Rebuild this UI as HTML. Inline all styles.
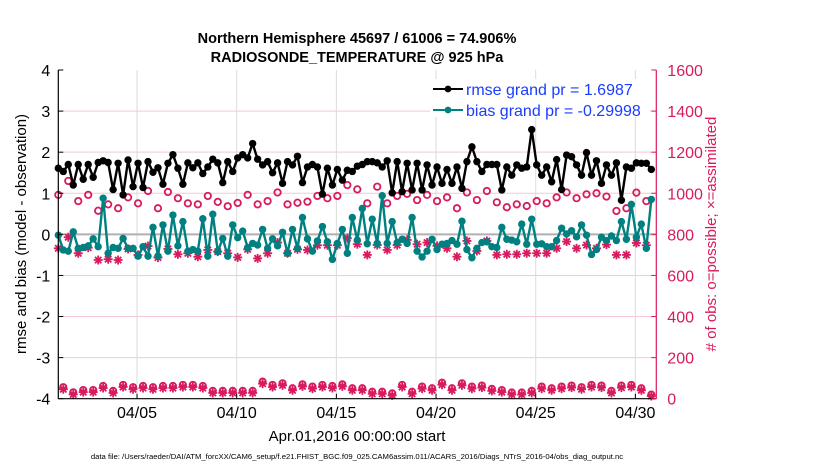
<!DOCTYPE html>
<html><head><meta charset="utf-8"><style>
body{margin:0;background:#fff;}
svg text{font-family:"Liberation Sans",sans-serif;}
</style></head><body>
<svg id="chart" width="830" height="470" xmlns="http://www.w3.org/2000/svg">
<rect x="0" y="0" width="830" height="470" fill="#fff"/>
<g id="grid"></g>
<g id="marks"></g>
<g id="axes"></g>
<text x="357" y="43" font-size="14.5" font-weight="bold" text-anchor="middle">Northern Hemisphere 45697 / 61006 = 74.906%</text>
<text x="357" y="62" font-size="14.5" font-weight="bold" text-anchor="middle">RADIOSONDE_TEMPERATURE @ 925 hPa</text>
<text transform="translate(26,234) rotate(-90)" font-size="15" text-anchor="middle">rmse and bias (model - observation)</text>
<text transform="translate(716,234) rotate(-90)" font-size="15" fill="#d81a5e" text-anchor="middle"># of obs: o=possible; ×=assimilated</text>
<text x="357" y="441" font-size="15" text-anchor="middle">Apr.01,2016 00:00:00 start</text>
<text x="357" y="459" font-size="7.7" text-anchor="middle">data file: /Users/raeder/DAI/ATM_forcXX/CAM6_setup/f.e21.FHIST_BGC.f09_025.CAM6assim.011/ACARS_2016/Diags_NTrS_2016-04/obs_diag_output.nc</text>
<g>
<rect x="430" y="79" width="220" height="38" fill="#fff"/>
<line x1="433" y1="89" x2="463" y2="89" stroke="#000" stroke-width="2"/>
<circle cx="448" cy="89" r="3.4" fill="#000"/>
<text x="466" y="95" font-size="16" fill="#1a3cff">rmse grand pr = 1.6987</text>
<line x1="433" y1="110" x2="463" y2="110" stroke="#008080" stroke-width="2"/>
<circle cx="448" cy="110" r="3.4" fill="#008080"/>
<text x="466" y="116" font-size="16" fill="#1a3cff">bias grand pr = -0.29998</text>
</g>
</svg>
<script>
const rmse=[1.61,1.53,1.70,1.20,1.70,1.34,1.70,1.39,1.75,1.79,1.75,1.09,1.73,0.96,1.81,1.16,1.73,1.14,1.77,1.51,1.62,1.22,1.73,1.94,1.61,1.22,1.74,1.62,1.74,1.48,1.64,1.83,1.74,1.26,1.77,1.53,1.86,1.94,1.86,2.21,
1.83,1.69,1.77,1.50,1.74,1.24,1.77,1.69,1.90,1.26,1.64,1.70,1.64,0.98,1.61,1.20,1.58,1.32,1.56,1.53,1.66,1.70,1.77,1.77,1.74,1.64,1.79,1.01,1.77,1.04,1.73,1.08,1.73,1.08,1.69,1.20,1.64,1.24,
1.58,1.24,1.64,1.12,1.77,2.13,1.77,1.53,1.70,1.70,1.70,1.08,1.64,1.44,1.69,1.61,1.64,2.55,1.69,1.44,1.64,1.28,1.82,1.09,1.93,1.89,1.69,1.44,1.99,1.44,1.79,1.24,1.69,1.44,1.74,0.83,1.64,1.61,1.74,1.73,1.73,1.58];
const bias=[-0.02,-0.38,-0.41,0.06,-0.34,-0.32,-0.28,-0.11,-0.30,0.88,-0.46,-0.32,-0.34,-0.10,-0.34,-0.34,-0.53,-0.30,-0.53,0.17,-0.53,0.23,-0.41,0.47,-0.28,0.31,-0.41,-0.37,-0.41,0.38,-0.53,0.49,-0.42,-0.10,-0.53,0.23,-0.08,0.08,-0.32,-0.22,
-0.26,0.12,-0.34,-0.11,-0.28,0.05,-0.46,0.12,-0.34,0.41,-0.11,-0.41,-0.16,0.19,-0.18,-0.61,-0.22,0.12,-0.46,0.41,-0.14,0.63,-0.23,0.37,-0.22,0.94,-0.22,0.31,-0.20,-0.12,-0.22,0.41,-0.41,-0.55,-0.41,-0.12,-0.37,-0.24,
-0.22,-0.15,-0.24,0.32,-0.37,-0.57,-0.34,-0.20,-0.18,-0.30,-0.32,0.17,-0.12,-0.14,-0.18,0.25,-0.24,0.37,-0.24,-0.23,-0.30,-0.30,-0.15,0.15,0.01,0.09,-0.06,0.23,-0.02,-0.49,-0.37,-0.07,-0.15,-0.04,-0.15,0.31,-0.12,0.73,-0.07,0.25,-0.34,0.85];
// synoptic (00Z/12Z) counts, even indices
const possibleMain=[992,1060,962,992,915,946,927,980,951,1011,927,1006,976,951,946,987,958,937,953,992,
946,962,1004,946,954,959,987,976,987,1040,1019,951,1032,951,987,997,967,992,962,
980,927,1004,967,1011,956,932,946,938,962,951,980,1004,976,995,1000,984,914,927,1003,962];
const assimMain=[732,786,708,735,675,679,675,729,700,743,687,729,703,708,691,724,716,708,688,727,
683,708,760,708,727,724,747,747,747,781,752,700,748,724,748,773,752,760,744,
732,691,768,719,768,700,703,703,708,708,708,732,765,732,748,732,750,700,700,758,747];
// off-synoptic (06Z/18Z) counts, odd indices
const assimOff=[46,21,32,32,52,28,57,46,52,46,52,52,57,57,52,28,28,28,28,28,73,57,65,41,60,49,57,52,60,41,
41,24,24,16,57,24,49,41,68,41,65,49,54,38,32,20,20,28,49,41,49,54,46,57,54,28,54,57,41,13];
const possibleOff=[56,31,42,42,62,38,67,56,62,56,62,62,67,67,62,38,38,38,38,38,83,67,75,51,70,59,67,62,70,51,
51,34,34,26,67,34,59,51,78,51,75,59,64,48,42,30,30,38,59,51,59,64,56,67,64,38,64,67,51,20];
const xTickLabels=["04/05","04/10","04/15","04/20","04/25","04/30"];
const xTickDays=[5,10,15,20,25,30];
const yLeftTicks=[-4,-3,-2,-1,0,1,2,3,4];
const yRightTicks=[0,200,400,600,800,1000,1200,1400,1600];

const L=58.3,R=656.3,T=70,B=398.7,MAG="#d81a5e",TEAL="#008080";
const NS="http://www.w3.org/2000/svg";
function xs(t){return L+(t/30)*(R-L);}
function dayT(d){return d-1.05;}
function yl(v){return B-(v+4)/8*(B-T);}
function yr(c){return B-c/1600*(B-T);}
function mk(tag,attrs,parent){const e=document.createElementNS(NS,tag);for(const k in attrs)e.setAttribute(k,attrs[k]);parent.appendChild(e);return e;}
const grid=document.getElementById('grid'),marks=document.getElementById('marks'),axes=document.getElementById('axes');

yRightTicks.forEach(c=>{if(c===0||c===1600)return;
const g=mk('line',{x1:L,x2:R,y1:yr(c),y2:yr(c),stroke:'#f3c9d6','stroke-width':1},grid);

});
xTickDays.forEach(d=>{const g=mk('line',{x1:xs(dayT(d)),x2:xs(dayT(d)),y1:T,y2:B,stroke:'#dcdcdc','stroke-width':1},grid);

});
const z=mk('line',{x1:L,x2:R,y1:yl(0),y2:yl(0),stroke:'#b0b0b0','stroke-width':2},grid);



function star(cx,cy,p){const g=mk('g',{stroke:MAG,'stroke-width':1.8},p);
mk('line',{x1:cx-4.5,x2:cx+4.5,y1:cy,y2:cy},g);mk('line',{x1:cx,x2:cx,y1:cy-4.5,y2:cy+4.5},g);
mk('line',{x1:cx-3.2,x2:cx+3.2,y1:cy-3.2,y2:cy+3.2},g);mk('line',{x1:cx-3.2,x2:cx+3.2,y1:cy+3.2,y2:cy-3.2},g);return g;}

for(let k=0;k<possibleMain.length;k++){const t=2*k*0.25;
const c=mk('circle',{cx:xs(t),cy:yr(possibleMain[k]),r:3.2,fill:'none',stroke:MAG,'stroke-width':1.8},marks);

}
for(let k=0;k<possibleOff.length;k++){const t=(2*k+1)*0.25;
const c=mk('circle',{cx:xs(t),cy:yr(possibleOff[k]),r:3.2,fill:'none',stroke:MAG,'stroke-width':1.8},marks);

}
for(let k=0;k<assimMain.length;k++){const s=star(xs(2*k*0.25),yr(assimMain[k]),marks);

}
for(let k=0;k<assimOff.length;k++){const s=star(xs((2*k+1)*0.25),yr(assimOff[k]),marks);

}

function series(vals,color,name){
const pts=vals.map((v,i)=>xs(i*0.25).toFixed(1)+','+yl(v).toFixed(1)).join(' ');
const pl=mk('polyline',{points:pts,fill:'none',stroke:color,'stroke-width':2.4,'stroke-linejoin':'round'},marks);


vals.forEach((v,i)=>{const c=mk('circle',{cx:xs(i*0.25),cy:yl(v),r:3.7,fill:color},marks);

});}
series(bias,TEAL,'bias');
series(rmse,'#000','rmse');

let a=mk('line',{x1:L,x2:L,y1:T,y2:B,stroke:'#000','stroke-width':1.2},axes);


a=mk('line',{x1:R,x2:R,y1:T,y2:B,stroke:MAG,'stroke-width':1.2},axes);


a=mk('line',{x1:L,x2:R,y1:B,y2:B,stroke:'#000','stroke-width':1.2},axes);


yLeftTicks.forEach(v=>{mk('line',{x1:L,x2:L+5,y1:yl(v),y2:yl(v),stroke:'#000'},axes);
const t=mk('text',{x:L-8,y:yl(v)+6,'font-size':16,'text-anchor':'end'},axes);t.textContent=v;

});
yRightTicks.forEach(c=>{mk('line',{x1:R-5,x2:R,y1:yr(c),y2:yr(c),stroke:MAG},axes);
const t=mk('text',{x:R+11,y:yr(c)+6,'font-size':16,fill:MAG},axes);t.textContent=c;

});
xTickDays.forEach((d,i)=>{const x=xs(dayT(d));mk('line',{x1:x,x2:x,y1:B-5,y2:B,stroke:'#000'},axes);
const t=mk('text',{x:x,y:418,'font-size':16,'text-anchor':'middle'},axes);t.textContent=xTickLabels[i];

});
</script>
</body></html>
